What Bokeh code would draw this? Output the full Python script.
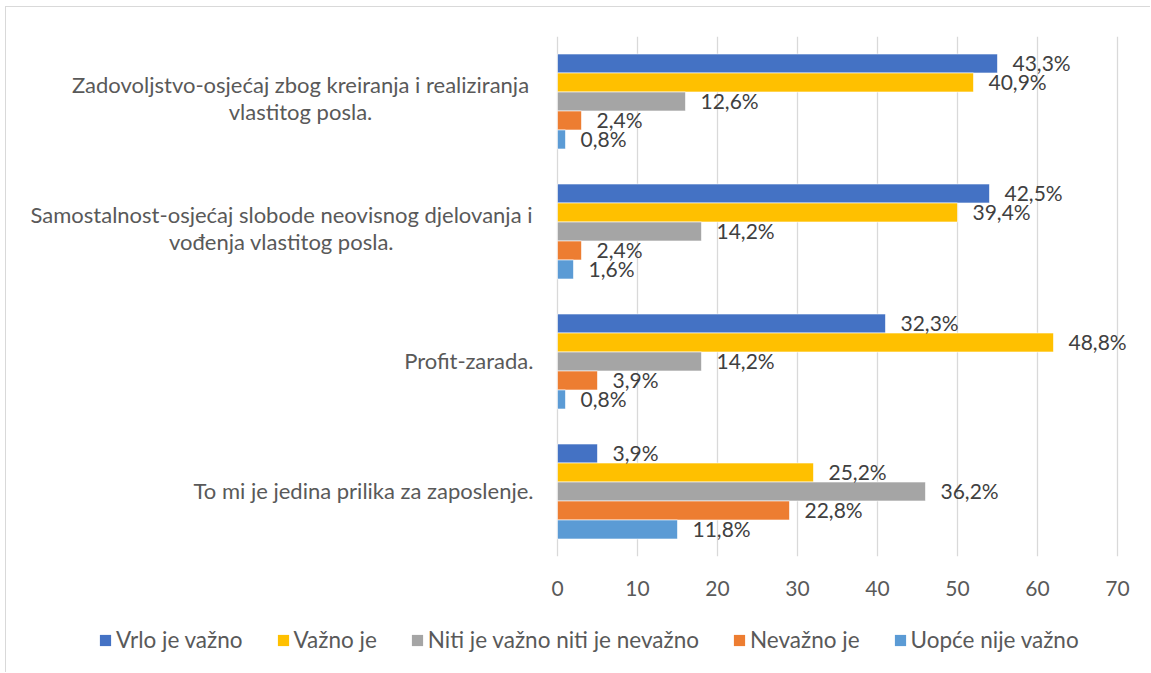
from bokeh.plotting import figure
from bokeh.layouts import column
from bokeh.models import (ColumnDataSource, FactorRange, FixedTicker, LabelSet,
                          Legend, LegendItem, Range1d)
from bokeh.transform import dodge
from bokeh.core.properties import value
from bokeh.embed import file_html
from bokeh.resources import INLINE

# ---------------- data ----------------
categories = [
    "Zadovoljstvo-osjećaj zbog kreiranja i realiziranja vlastitog posla.",
    "Samostalnost-osjećaj slobode neovisnog djelovanja i vođenja vlastitog posla.",
    "Profit-zarada.",
    "To mi je jedina prilika za zaposlenje.",
]
category_lines = [
    ["Zadovoljstvo-osjećaj zbog kreiranja i realiziranja", "vlastitog posla."],
    ["Samostalnost-osjećaj slobode neovisnog djelovanja i", "vođenja vlastitog posla."],
    ["Profit-zarada."],
    ["To mi je jedina prilika za zaposlenje."],
]
series = ["Vrlo je važno", "Važno je", "Niti je važno niti je nevažno",
          "Nevažno je", "Uopće nije važno"]

vrlo_je_vazno = [55, 54, 41, 5]
vazno_je = [52, 50, 62, 32]
niti_niti = [16, 18, 18, 46]
nevazno_je = [3, 3, 5, 29]
uopce_nije = [1, 2, 1, 15]

vrlo_je_vazno_pct = [43.3, 42.5, 32.3, 3.9]
vazno_je_pct = [40.9, 39.4, 48.8, 25.2]
niti_niti_pct = [12.6, 14.2, 14.2, 36.2]
nevazno_je_pct = [2.4, 2.4, 3.9, 22.8]
uopce_nije_pct = [0.8, 1.6, 0.8, 11.8]

x_ticks = [0, 10, 20, 30, 40, 50, 60, 70]

counts = [vrlo_je_vazno, vazno_je, niti_niti, nevazno_je, uopce_nije]
pcts = [vrlo_je_vazno_pct, vazno_je_pct, niti_niti_pct, nevazno_je_pct, uopce_nije_pct]
colors = ["#4472C4", "#FFC000", "#A5A5A5", "#ED7D31", "#5B9BD5"]

FONT = "Lato"
TXT = "#595959"

# ---------------- layout constants (px) ----------------
OX, OY = 6, 7                     # canvas origin on the page (margin + border)
W = 1144
H1, H2 = 609, 56
PX_PER_UNIT = 8.0
ZERO_X = 557 - OX
x_start = -ZERO_X / PX_PER_UNIT
x_end = (W - ZERO_X) / PX_PER_UNIT

p = figure(
    width=W, height=H1,
    y_range=FactorRange(factors=list(reversed(categories))),
    x_range=Range1d(x_start, x_end),
    output_backend="svg", toolbar_location=None,
    min_border_left=0, min_border_right=0,
    min_border_top=36 - OY, min_border_bottom=H1 - (556 - OY),
)
p.outline_line_color = None
p.background_fill_color = "white"

bar_h = 19 / 130
offsets = [2 * bar_h, bar_h, 0, -bar_h, -2 * bar_h]

renderers = []
for name, cnt, pc, col, off in zip(series, counts, pcts, colors, offsets):
    src = ColumnDataSource(dict(
        cat=categories, val=cnt,
        lab=[f"{v:.1f}".replace(".", ",") + "%" for v in pc],
    ))
    r = p.hbar(y=dodge("cat", off, range=p.y_range), right="val", left=0,
               height=bar_h, source=src, fill_color=col,
               line_color="white", line_width=0.6)
    renderers.append(r)
    ls = LabelSet(x="val", y=dodge("cat", off, range=p.y_range), text="lab",
                  source=src, x_offset=15, y_offset=1, text_baseline="middle",
                  text_align="left", text_font=value(FONT),
                  text_font_size="21px", text_color="#404040")
    p.add_layout(ls)

# category labels
cl_cat, cl_text, cl_xoff, cl_yoff, cl_align = [], [], [], [], []
center_off = {0: -257, 1: -276}
for i, (cat, lines) in enumerate(zip(categories, category_lines)):
    if len(lines) == 2:
        for j, ln in enumerate(lines):
            cl_cat.append(cat)
            cl_text.append(ln)
            cl_xoff.append(center_off[i])
            cl_yoff.append(17 if j == 0 else -10)
            cl_align.append("center")
    else:
        cl_cat.append(cat)
        cl_text.append(lines[0])
        cl_xoff.append(-24)
        cl_yoff.append(1)
        cl_align.append("right")
csrc = ColumnDataSource(dict(x=[0] * len(cl_cat), cat=cl_cat, text=cl_text,
                             xo=cl_xoff, yo=cl_yoff, al=cl_align))
p.add_layout(LabelSet(x="x", y="cat", text="text", source=csrc,
                      x_offset="xo", y_offset="yo", text_align="al",
                      text_baseline="middle", text_font=value(FONT),
                      text_font_size="22px", text_color=TXT))

# axes
p.yaxis.visible = False
p.xaxis.ticker = FixedTicker(ticks=x_ticks)
p.xaxis.axis_line_color = None
p.xaxis.major_tick_line_color = None
p.xaxis.minor_tick_line_color = None
p.xaxis.major_tick_out = 0
p.xaxis.major_tick_in = 0
p.xaxis.major_label_standoff = 24
p.xaxis.major_label_text_font = FONT
p.xaxis.major_label_text_font_size = "21px"
p.xaxis.major_label_text_color = TXT

p.xgrid.ticker = FixedTicker(ticks=x_ticks)
p.xgrid.grid_line_color = "#D9D9D9"
p.xgrid.grid_line_width = 1.3
p.ygrid.visible = False

# ---------------- legend strip ----------------
pl = figure(width=W, height=H2, x_range=Range1d(0, 1), y_range=Range1d(0, 1),
            output_backend="svg", toolbar_location=None,
            min_border_left=0, min_border_right=0,
            min_border_top=0, min_border_bottom=0)
pl.axis.visible = False
pl.grid.visible = False
pl.outline_line_color = None
nan = float("nan")
legend_renderers = []
for col in colors:
    # legend swatches only: a single undefined row, nothing is drawn in the strip
    legend_renderers.append(pl.hbar(y=[nan], right=[nan], left=[nan], height=0.1,
                                    fill_color=col, line_color=None))
legend = Legend(
    items=[LegendItem(label=n, renderers=[r]) for n, r in zip(series, legend_renderers)],
    orientation="horizontal", location=(98 - OX, 19),
    glyph_width=14, glyph_height=14, label_standoff=4, spacing=33,
    padding=0, margin=0, border_line_color=None, background_fill_alpha=0,
    label_text_font=FONT, label_text_font_size="22.5px", label_text_color=TXT,
)
pl.add_layout(legend, "center")

layout = column(p, pl, spacing=0)
layout.styles = {"border-left": "1px solid #D9D9D9", "border-top": "1px solid #D9D9D9",
                 "margin-left": "5px", "margin-top": "6px"}
open("out.html", "w").write(file_html(layout, INLINE))
